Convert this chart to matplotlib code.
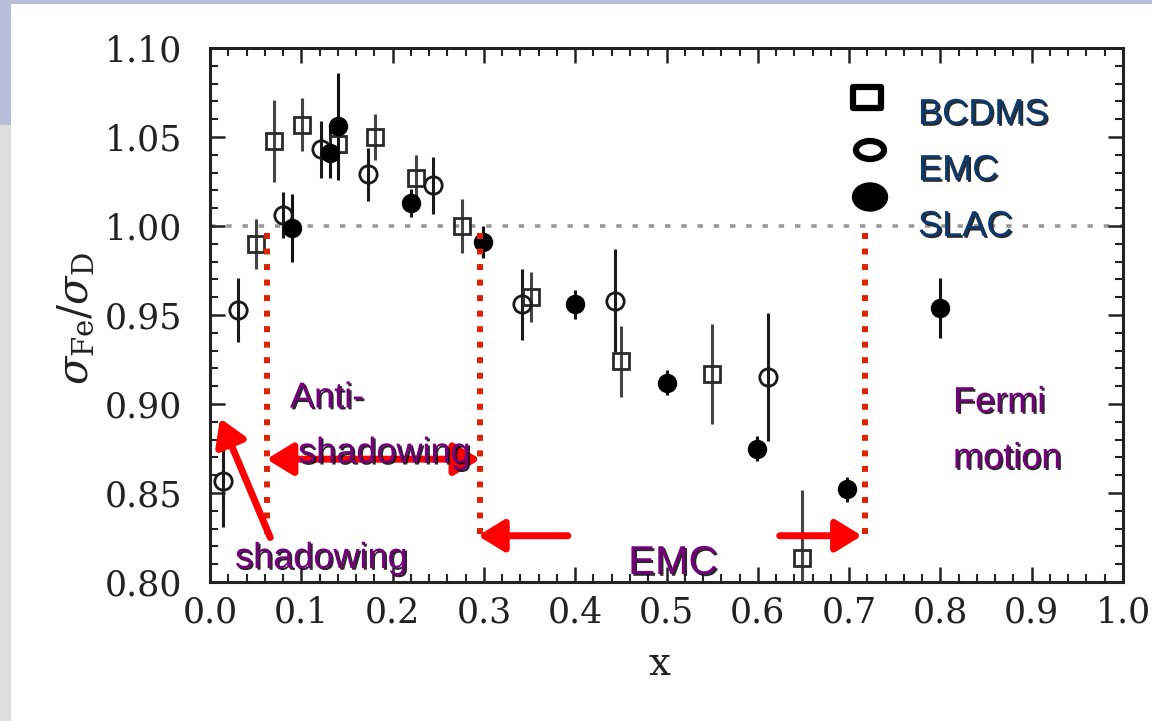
import matplotlib
matplotlib.use("Agg")
import matplotlib.pyplot as plt
import matplotlib.patheffects as pe
from matplotlib.patches import Rectangle, Ellipse
from matplotlib.ticker import MultipleLocator, FormatStrFormatter

plt.rcParams['font.family'] = 'DejaVu Serif'
plt.rcParams['mathtext.fontset'] = 'dejavuserif'

# BCDMS (open squares)
bcdms_x = [0.050, 0.070, 0.101, 0.140, 0.181, 0.226, 0.276, 0.352, 0.450, 0.550, 0.648]
bcdms_y = [0.990, 1.048, 1.057, 1.046, 1.050, 1.027, 1.000, 0.960, 0.924, 0.917, 0.8135]
bcdms_err = [0.014, 0.023, 0.015, 0.015, 0.013, 0.013, 0.015, 0.014, 0.020, 0.028, 0.038]

# EMC (open circles)
emc_x = [0.014, 0.031, 0.080, 0.122, 0.173, 0.244, 0.342, 0.444, 0.611]
emc_y = [0.857, 0.953, 1.006, 1.043, 1.029, 1.023, 0.956, 0.958, 0.915]
emc_err = [0.026, 0.018, 0.013, 0.016, 0.015, 0.016, 0.020, 0.029, 0.036]

# SLAC (filled circles)
slac_x = [0.090, 0.131, 0.140, 0.220, 0.299, 0.400, 0.501, 0.599, 0.698, 0.800]
slac_y = [0.999, 1.041, 1.056, 1.013, 0.991, 0.956, 0.912, 0.875, 0.852, 0.954]
slac_err = [0.019, 0.014, 0.030, 0.008, 0.009, 0.008, 0.007, 0.007, 0.007, 0.017]

# region boundaries (red dotted lines)
region_x = [0.0624, 0.296, 0.717]

legend_names = ['BCDMS', 'EMC', 'SLAC']

fig = plt.figure(figsize=(11.52, 7.21), dpi=100)

# slide background decorations
fig.patches.append(Rectangle((0, 1 - 4 / 721), 1, 4 / 721, transform=fig.transFigure,
                             facecolor='#b8bdd9', edgecolor='none', zorder=0))
fig.patches.append(Rectangle((0, 1 - 125 / 721), 11 / 1152, 125 / 721, transform=fig.transFigure,
                             facecolor='#b8bdd9', edgecolor='none', zorder=0))
fig.patches.append(Rectangle((0, 0), 11 / 1152, 1 - 125 / 721, transform=fig.transFigure,
                             facecolor='#dedede', edgecolor='none', zorder=0))

ax = fig.add_axes([210 / 1152, 139 / 721, 913 / 1152, 534 / 721])
ax.set_xlim(0.0, 1.0)
ax.set_ylim(0.80, 1.10)

ax.axhline(1.0, color='#999999', lw=2.6, ls=(0, (1.5, 3.0)), zorder=1)

ax.errorbar(bcdms_x, bcdms_y, yerr=bcdms_err, fmt='s', ms=11, mfc='none', mec='#2a2a2a',
            mew=2.0, ecolor='#444444', elinewidth=2.2, capsize=0, zorder=3)
ax.errorbar(emc_x, emc_y, yerr=emc_err, fmt='o', ms=12.5, mfc='none', mec='#1a1a1a',
            mew=2.0, ecolor='#1a1a1a', elinewidth=2.2, capsize=0, zorder=3)
ax.errorbar(slac_x, slac_y, yerr=slac_err, fmt='o', ms=13, mfc='black', mec='black',
            ecolor='#111111', elinewidth=2.2, capsize=0, zorder=3)

ax.vlines(region_x, 0.827, 0.996, color='#dd2200', lw=4.3, ls=(0, (1.0, 1.6)), zorder=4)

arrow_kw = dict(color='#ff0000', lw=5, shrinkA=0, shrinkB=0, mutation_scale=24)
head = 'head_length=0.65,head_width=0.4'
ax.annotate('', xy=(0.011, 0.892), xytext=(0.066, 0.825),
            arrowprops=dict(arrowstyle='-|>,' + head, **arrow_kw), zorder=5)
ax.annotate('', xy=(0.296, 0.869), xytext=(0.062, 0.869),
            arrowprops=dict(arrowstyle='<|-|>,' + head, **arrow_kw), zorder=5)
ax.annotate('', xy=(0.2935, 0.826), xytext=(0.392, 0.826),
            arrowprops=dict(arrowstyle='-|>,' + head, **arrow_kw), zorder=5)
ax.annotate('', xy=(0.714, 0.826), xytext=(0.624, 0.826),
            arrowprops=dict(arrowstyle='-|>,' + head, **arrow_kw), zorder=5)

shadow = [pe.withSimplePatchShadow(offset=(1.3, -1.3), shadow_rgbFace='#111111', alpha=0.9)]
purple = dict(family='Liberation Sans', fontsize=26, color='#73007a', va='baseline',
              path_effects=shadow, zorder=6)
ax.text(0.0876, 0.898, 'Anti-', **purple)
ax.text(0.0964, 0.867, 'shadowing', **purple)
ax.text(0.0274, 0.8079, 'shadowing', **purple)
ax.text(0.458, 0.8045, 'EMC', **{**purple, 'fontsize': 29})
ax.text(0.8138, 0.8955, 'Fermi', **purple)
ax.text(0.8138, 0.864, 'motion', **purple)

# legend drawn by hand
ax.add_patch(Rectangle((0.7196 - 0.0154, 0.9082 - 0.0197), 0.0307, 0.0393, transform=ax.transAxes,
                       facecolor='white', edgecolor='black', lw=4.5, joinstyle='round', zorder=6))
ax.add_patch(Ellipse((0.7229, 0.809), 0.0307, 0.0337, transform=ax.transAxes,
                     facecolor='white', edgecolor='black', lw=4.5, zorder=6))
ax.add_patch(Ellipse((0.7229, 0.721), 0.0383, 0.0524, transform=ax.transAxes,
                     facecolor='black', edgecolor='black', lw=1, zorder=6))
for name, fy in zip(legend_names, [0.8577, 0.7528, 0.6479]):
    ax.text(0.7755, fy, name, transform=ax.transAxes, family='Liberation Sans', fontsize=26,
            color='#0d3a6e', va='baseline', path_effects=shadow, zorder=6)

ax.xaxis.set_major_locator(MultipleLocator(0.1))
ax.xaxis.set_minor_locator(MultipleLocator(0.02))
ax.yaxis.set_major_locator(MultipleLocator(0.05))
ax.yaxis.set_minor_locator(MultipleLocator(0.01))
ax.xaxis.set_major_formatter(FormatStrFormatter('%.1f'))
ax.yaxis.set_major_formatter(FormatStrFormatter('%.2f'))
ax.tick_params(which='both', direction='in', top=True, right=True, color='#222222')
ax.tick_params(which='major', length=11, width=1.8, labelsize=25, labelcolor='#222222')
ax.tick_params(which='minor', length=6, width=1.5)
ax.tick_params(axis='x', which='major', pad=10)
ax.tick_params(axis='y', which='major', pad=20)
for s in ax.spines.values():
    s.set_linewidth(2.2)
    s.set_color('#222222')

ax.set_xlabel('x', fontsize=28, color='#222222', va='baseline')
ax.xaxis.set_label_coords(0.4918, -0.174)
ax.set_ylabel(r'$\sigma_{\rm Fe}/\sigma_{\rm D}$', fontsize=30, color='#222222')
ax.yaxis.set_label_coords(-0.124, 0.494)

fig.savefig('out.png', dpi=100)
